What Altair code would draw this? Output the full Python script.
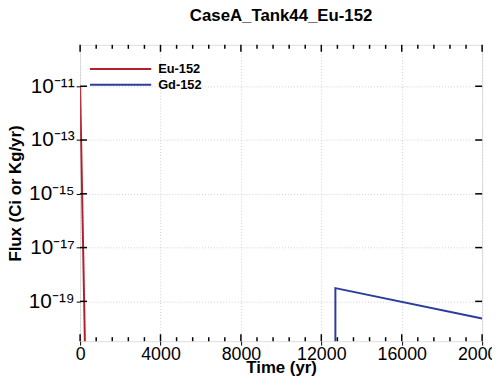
import altair as alt
import pandas as pd

# ---- data ----
series_names = ["Eu-152", "Gd-152"]
series_colors = ["#b3202c", "#2c3c9c"]

eu_time = [0, 250]
eu_flux = [1.0e-11, 1.0e-21]

gd_time = [12700, 12700, 20000]
gd_flux = [1.0e-21, 3.1e-19, 2.3e-20]

x_ticks = [0, 4000, 8000, 12000, 16000, 20000]
x_minor = [800, 1600, 2400, 3200, 4800, 5600, 6400, 7200, 8800, 9600, 10400, 11200,
           12800, 13600, 14400, 15200, 16800, 17600, 18400, 19200]
y_exps = [-19, -17, -15, -13, -11]
y_labels = ["10⁻¹⁹", "10⁻¹⁷", "10⁻¹⁵", "10⁻¹³", "10⁻¹¹"]
y_ticks = [10.0 ** e for e in y_exps]

title_text = "CaseA_Tank44_Eu-152"
x_title = "Time (yr)"
y_title = "Flux (Ci or Kg/yr)"

df = pd.concat([
    pd.DataFrame({"time": eu_time, "flux": eu_flux, "series": series_names[0], "order": range(len(eu_time))}),
    pd.DataFrame({"time": gd_time, "flux": gd_flux, "series": series_names[1], "order": range(len(gd_time))}),
])

FONT = "Liberation Sans"
W, H = 407, 300
TICK = "#000000"
xscale = alt.Scale(domain=[0, 20000], nice=False, zero=False)
yscale = alt.Scale(type="log", domain=[10 ** -20.48, 10 ** -9.46], nice=False)

label_expr = " : ".join(
    f"round(log(datum.value)/LN10) == {e} ? '{l}'" for e, l in zip(y_exps, y_labels)
) + " : ''"

main = alt.Chart(df).mark_line(strokeWidth=2, clip=True).encode(
    x=alt.X("time:Q", scale=xscale, axis=alt.Axis(
        orient="bottom", values=x_ticks, format="d", labelFont=FONT, labelFontSize=18,
        labelColor="black", labelPadding=1, ticks=True, tickSize=4, tickColor=TICK,
        tickWidth=1, domain=False, grid=True,
        gridColor="#cfcfcf", gridDash=[1, 2], title=x_title, titleFont=FONT,
        titleFontSize=17, titleFontWeight="bold", titleColor="black",
        titleBaseline="alphabetic", titleY=32, labelFlush=False)),
    y=alt.Y("flux:Q", scale=yscale, axis=alt.Axis(
        orient="left", values=y_ticks, labelExpr=label_expr, labelFont=FONT,
        labelFontSize=21, labelColor="black", labelPadding=2, ticks=True, tickSize=4,
        tickColor=TICK, tickWidth=1, domain=False,
        grid=True, gridColor="#cfcfcf", gridDash=[1, 2], title=y_title, titleFont=FONT,
        titleFontSize=17, titleFontWeight="bold", titleColor="black", titlePadding=4)),
    color=alt.Color("series:N", scale=alt.Scale(domain=series_names, range=series_colors),
                    legend=None),
    order="order:Q",
)

# inward tick marks on all four sides
xmaj = alt.Chart(pd.DataFrame({"time": x_ticks}))
xmin = alt.Chart(pd.DataFrame({"time": x_minor}))
ymaj = alt.Chart(pd.DataFrame({"flux": y_ticks}))

def xt(chart, y0, y1):
    return chart.mark_rule(color=TICK, strokeWidth=1.5).encode(
        x=alt.X("time:Q", scale=xscale, axis=None), y=alt.value(y0), y2=alt.value(y1))

def yt(x0, x1):
    return ymaj.mark_rule(color=TICK, strokeWidth=1.5).encode(
        y=alt.Y("flux:Q", scale=yscale, axis=None), x=alt.value(x0), x2=alt.value(x1))

ticks = [xt(xmaj, H, H - 7), xt(xmaj, 0, 7), xt(xmin, H, H - 4), xt(xmin, 0, 4),
         yt(0, 7), yt(W, W - 7)]

# legend (top-left inside the plot)
leg = []
for i, (name, col) in enumerate(zip(series_names, series_colors)):
    ly = 24.5 + 16 * i
    src = alt.Chart(pd.DataFrame({"series": [name]}))
    leg.append(src.mark_rule(color=col, strokeWidth=2).encode(
        x=alt.value(10), x2=alt.value(72), y=alt.value(ly)))
    leg.append(src.mark_text(align="left", baseline="middle", font=FONT, fontSize=13,
                             fontWeight="bold", color="black").encode(
        x=alt.value(79), y=alt.value(ly), text="series:N"))

chart = alt.layer(main, *ticks, *leg).resolve_axis(
    x="independent", y="independent"
).properties(
    width=W, height=H,
    title=alt.TitleParams(title_text, font=FONT, fontSize=17, fontWeight="bold",
                          color="black", anchor="middle", offset=19),
    autosize=alt.AutoSizeParams(type="none"),
    padding={"left": 73, "top": 35, "right": 10, "bottom": 35},
).configure_view(stroke="#111111", strokeWidth=1).configure(background="white")

chart.save("out.html", embed_options={"renderer": "svg", "actions": False})
